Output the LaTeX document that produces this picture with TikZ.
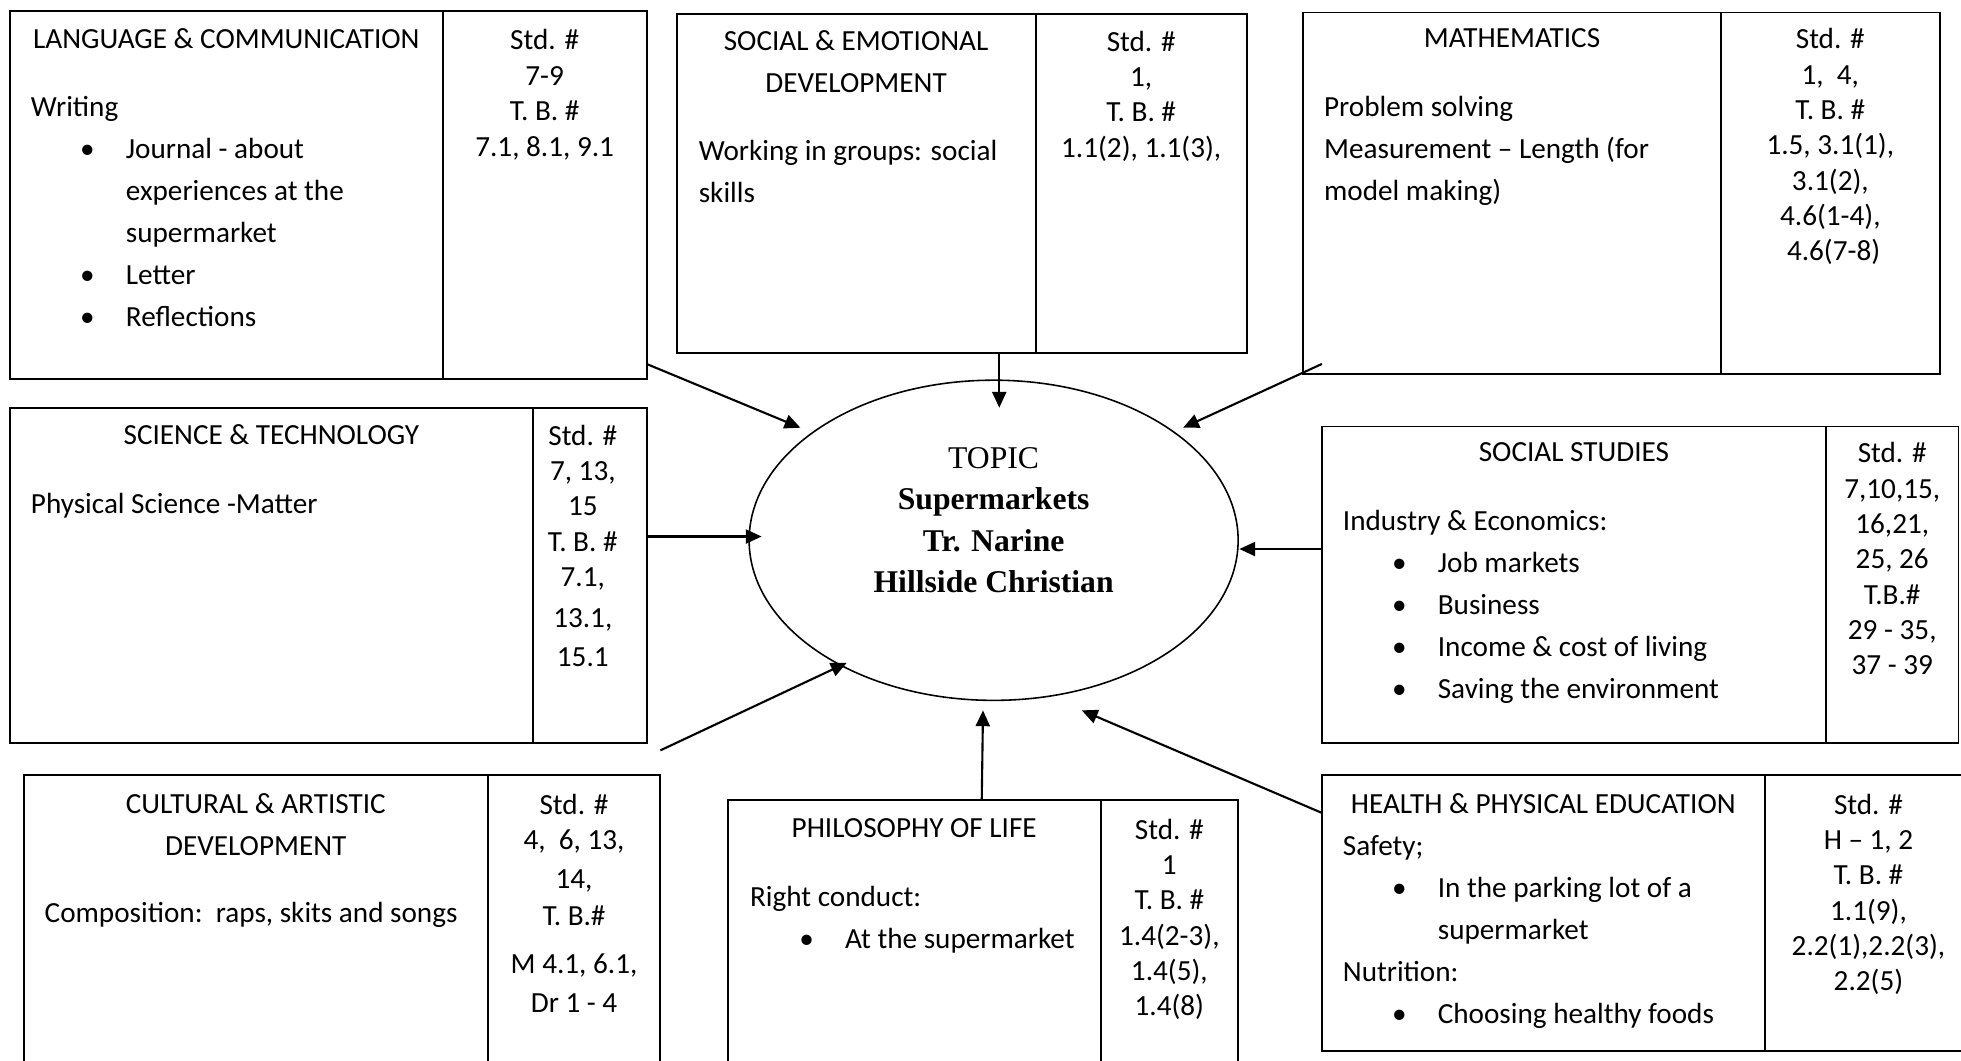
\documentclass[tikz,border=0pt]{standalone}
\usepackage{fontspec}
\setmainfont{Carlito}
\newfontfamily\timesfont{Liberation Serif}
\usetikzlibrary{arrows.meta,shapes.geometric}

% bullet lines inside the subject boxes
\newcommand{\bitem}[1]{\hspace*{28pt}\makebox[26pt][l]{\textbullet}#1}
\newcommand{\bcont}[1]{\hspace*{54pt}#1}

\begin{document}
\begin{tikzpicture}[x=0.25mm,y=-0.25mm,line width=1.1pt,
  hd/.style={font=\fontsize{16.6}{23.9}\selectfont,align=center,inner sep=0pt,anchor=north},
  txt/.style={font=\fontsize{16.6}{23.9}\selectfont,align=left,inner sep=0pt,anchor=north west},
  stdcol/.style={font=\fontsize{16.6}{20.1}\selectfont,align=center,inner sep=0pt,anchor=north},
  link/.style={-{Triangle[length=9pt,width=8pt]},line width=1.2pt}]

\useasboundingbox (0,0) rectangle (1568,848);

% TOPIC
\node[draw,ellipse,line width=0.9pt,minimum width=97.75mm,minimum height=64mm,inner sep=0pt] (topic) at (794.5,432) {};
\node[font=\timesfont\fontsize{18}{23.5}\selectfont,align=center,inner sep=0pt,anchor=north] (topiclbl) at (794.5,357)
  {TOPIC\\ \textbf{Supermarkets}\\ \textbf{Tr. Narine}\\ \textbf{Hillside Christian}};

% LANGUAGE & COMMUNICATION
\draw (8,9) rectangle (517,303);
\draw (354,9) -- (354,303);
\node[hd] (langhd) at (181,22) {LANGUAGE \& COMMUNICATION};
\node[txt] (langtxt) at (24,76) {Writing\\ \bitem{Journal - about}\\ \bcont{experiences at the}\\
  \bcont{supermarket}\\ \bitem{Letter}\\ \bitem{Reflections}};
\node[stdcol] (langstd) at (435.5,23) {Std. \#\\ 7-9\\ T. B. \#\\ 7.1, 8.1, 9.1};

% SOCIAL & EMOTIONAL DEVELOPMENT
\draw (541,11) rectangle (997,282);
\draw (828,11) -- (828,282);
\node[hd] (sochd) at (684.5,24) {SOCIAL \& EMOTIONAL\\ DEVELOPMENT};
\node[txt] (soctxt) at (558,111) {Working in groups: social\\ skills};
\node[stdcol] (socstd) at (912.5,24) {Std. \#\\ 1,\\ T. B. \#\\ 1.1(2), 1.1(3),};

% MATHEMATICS
\draw (1042,10) rectangle (1551,299);
\draw (1376,10) -- (1376,299);
\node[hd] (mathhd) at (1209,22) {MATHEMATICS};
\node[txt] (mathtxt) at (1058,76) {Problem solving\\ Measurement -- Length (for\\ model making)};
\node[stdcol] (mathstd) at (1463.5,22) {Std. \#\\ 1,\ \ 4,\\ T. B. \#\\ 1.5, 3.1(1),\\ 3.1(2),\\ 4.6(1-4),\\ \ 4.6(7-8)};

% SCIENCE & TECHNOLOGY
\draw (8,326) rectangle (517,594);
\draw (426,326) -- (426,594);
\node[hd] (scihd) at (217,339) {SCIENCE \& TECHNOLOGY};
\node[txt] (scitxt) at (24,394) {Physical Science -Matter};
\node[stdcol] (scistd) at (466,339) {Std. \#\\ 7, 13,\\ 15\\ T. B. \#\\ 7.1,\\[3pt] 13.1,\\[2.4pt] 15.1};

% SOCIAL STUDIES
\draw (1057,341) rectangle (1566,594);
\draw (1460,341) -- (1460,594);
\node[hd] (sshd) at (1258.5,353) {SOCIAL STUDIES};
\node[txt] (sstxt) at (1073,407) {Industry \& Economics:\\ \bitem{Job markets}\\ \bitem{Business}\\
  \bitem{Income \& cost of living}\\ \bitem{Saving the environment}};
\node[stdcol] (ssstd) at (1513,353) {Std. \#\\ 7,10,15,\\ 16,21,\\ 25, 26\\ T.B.\#\\ 29 - 35,\\ 37 - 39};

% CULTURAL & ARTISTIC DEVELOPMENT
\draw (19,860) -- (19,620) -- (528,620) -- (528,860);
\draw (390,620) -- (390,860);
\node[hd] (culthd) at (204.5,634) {CULTURAL \& ARTISTIC\\ DEVELOPMENT};
\node[txt] (culttxt) at (35,721) {Composition:\ \ raps, skits and songs};
\node[stdcol] (cultstd) at (459,634) {Std. \#\\ 4,\ \ 6, 13,\\[1.9pt] 14,\\[1.2pt] T. B.\#\\[6.9pt] M 4.1, 6.1,\\[2.6pt] Dr 1 - 4};

% PHILOSOPHY OF LIFE
\draw (582,860) -- (582,640) -- (990,640) -- (990,860);
\draw (880,640) -- (880,860);
\node[hd] (philhd) at (731,654) {PHILOSOPHY OF LIFE};
\node[txt] (philtxt) at (599,708) {Right conduct:\\ \bitem{At the supermarket}};
\node[stdcol] (philstd) at (935,654) {Std. \#\\ 1\\ T. B. \#\\ 1.4(2-3),\\ 1.4(5),\\ 1.4(8)};

% HEALTH & PHYSICAL EDUCATION
\draw (1580,620) -- (1057,620) -- (1057,840) -- (1580,840);
\draw (1411,620) -- (1411,840);
\node[hd] (hlthhd) at (1234,634) {HEALTH \& PHYSICAL EDUCATION};
\node[txt] (hlthtxt) at (1073,667) {Safety;\\ \bitem{In the parking lot of a}\\ \bcont{supermarket}\\
  Nutrition:\\ \bitem{Choosing healthy foods}};
\node[stdcol] (hlthstd) at (1494,634) {Std. \#\\ H -- 1, 2\\ T. B. \#\\ 1.1(9),\\ 2.2(1),2.2(3),\\ 2.2(5)};

% Define coordinates for the arrows
\coordinate (langout) at (517,291);  \coordinate (langin) at (640,342);
\coordinate (socout) at (799,282);   \coordinate (socin) at (799,326);
\coordinate (mathout) at (1057,291); \coordinate (mathin) at (946,342);
\coordinate (sciout) at (517,429);   \coordinate (sciin) at (609,429);
\coordinate (ssout) at (1057,439);   \coordinate (ssin) at (991,439);
\coordinate (cultout) at (528,600);  \coordinate (cultin) at (677,530);
\coordinate (philout) at (785,640);  \coordinate (philin) at (786,568);
\coordinate (hlthout) at (1057,650); \coordinate (hlthin) at (865,568);

% Arrows into the topic
\draw[link] (langout) -- (langin);
\draw[link] (socout) -- (socin);
\draw[link] (mathout) -- (mathin);
\draw[link] (sciout) -- (sciin);
\draw[link] (ssout) -- (ssin);
\draw[link] (cultout) -- (cultin);
\draw[link] (philout) -- (philin);
\draw[link] (hlthout) -- (hlthin);

\end{tikzpicture}
\end{document}
